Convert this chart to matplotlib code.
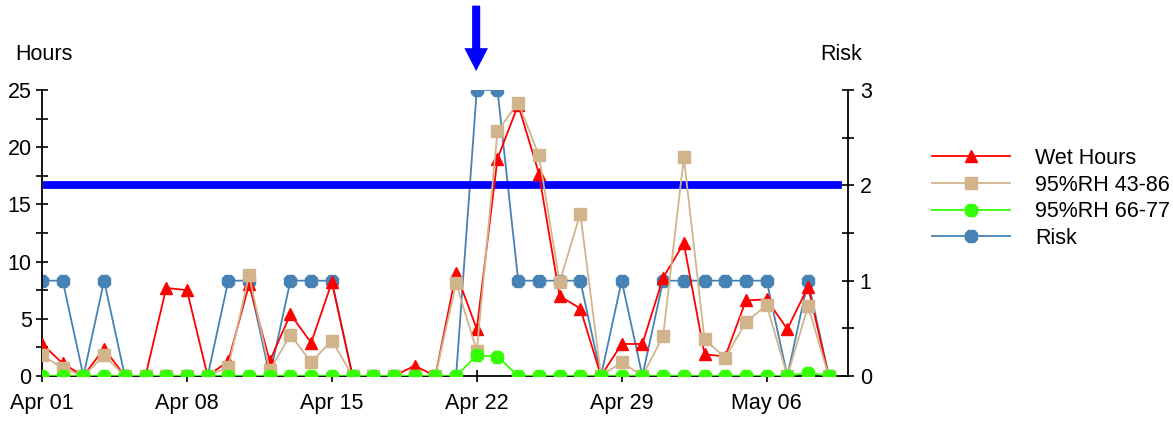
import matplotlib
matplotlib.use("Agg")
import matplotlib.pyplot as plt
from matplotlib.lines import Line2D
from matplotlib.ticker import MultipleLocator
import numpy as np

plt.rcParams['font.family'] = ['Liberation Sans', 'DejaVu Sans']

# Days from Apr 01 to May 09
days = np.arange(39)
tick_days = [0, 7, 14, 21, 28, 35]
tick_labels = ["Apr 01", "Apr 08", "Apr 15", "Apr 22", "Apr 29", "May 06"]

wet_hours = [2.8, 1.1, 0, 2.4, 0, 0, 7.7, 7.5, 0, 1.3,
             8.0, 1.3, 5.4, 2.9, 8.2, 0, 0, 0, 0.9, 0,
             9.0, 4.1, 19.0, 23.7, 17.7, 7.0, 5.9, 0, 2.8, 2.8,
             8.6, 11.6, 1.9, 1.7, 6.6, 6.7, 4.1, 7.8, 0]
rh_43_86 = [1.8, 0.7, 0, 1.8, 0, 0, 0, 0, 0, 0.8,
            8.8, 0.5, 3.6, 1.2, 3.1, 0, 0, 0, 0, 0,
            8.1, 2.2, 21.4, 23.9, 19.3, 8.2, 14.2, 0, 1.2, 0,
            3.5, 19.1, 3.2, 1.6, 4.7, 6.2, 0, 6.1, 0]
rh_66_77 = [0, 0, 0, 0, 0, 0, 0, 0, 0, 0,
            0, 0, 0, 0, 0, 0, 0, 0, 0, 0,
            0, 1.8, 1.7, 0, 0, 0, 0, 0, 0, 0,
            0, 0, 0, 0, 0, 0, 0, 0.3, 0]
risk = [1, 1, 0, 1, 0, 0, 0, 0, 0, 1,
        1, 0, 1, 1, 1, 0, 0, 0, 0, 0,
        0, 3, 3, 1, 1, 1, 1, 0, 1, 0,
        1, 1, 1, 1, 1, 1, 0, 1, 0]
risk_threshold = 2
arrow_day = 21

FS = 15.5
fig = plt.figure(figsize=(11.73, 4.22), dpi=100)
ax = fig.add_axes([42/1173, 1-376/422, (848-42)/1173, (376-90)/422])
ax2 = ax.twinx()
ax.set_zorder(2)
ax2.set_zorder(1)
ax.patch.set_visible(False)

c_red = '#FF0000'
c_tan = '#D2B48C'
c_green = '#33FF00'
c_blue = '#4682B4'

ax2.plot(days, risk, color=c_blue, lw=1.3, marker='8', ms=9.5, mec=c_blue, mfc=c_blue)
ax2.axhline(risk_threshold, xmin=0.006, xmax=0.988, color='#0000FF', lw=5.6, zorder=5)

l1, = ax.plot(days, wet_hours, color=c_red, lw=1.3, marker='^', ms=9, mec=c_red, mfc=c_red, zorder=3)
l2, = ax.plot(days, rh_43_86, color=c_tan, lw=1.3, marker='s', ms=9, mec=c_tan, mfc=c_tan, zorder=4)
l3, = ax.plot(days, rh_66_77, color=c_green, lw=1.3, marker='8', ms=9.5, mec=c_green, mfc=c_green, zorder=5)
l4 = Line2D([], [], color=c_blue, lw=1.3, marker='8', ms=9.5, mec=c_blue, mfc=c_blue)

ax.set_xlim(0, 38.93)
ax.set_ylim(0, 25)
ax2.set_ylim(0, 3)

ax.spines['top'].set_visible(False)
ax.spines['right'].set_visible(False)
ax2.spines['left'].set_visible(False)
ax2.spines['bottom'].set_visible(False)
ax2.spines['top'].set_visible(False)
ax2.spines['right'].set_visible(True)
for sp in ('left', 'bottom'):
    ax.spines[sp].set_color('black')
    ax.spines[sp].set_linewidth(1.3)
ax2.spines['right'].set_linewidth(1.3)
ax.spines['bottom'].set_zorder(0.5)

ax.set_xticks(tick_days)
ax.set_xticklabels(tick_labels)
ax.set_yticks([0, 5, 10, 15, 20, 25])
ax.yaxis.set_minor_locator(MultipleLocator(2.5))
ax2.set_yticks([0, 1, 2, 3])
ax2.yaxis.set_minor_locator(MultipleLocator(0.5))

ax.tick_params(axis='y', which='both', direction='inout', length=9, width=1.2, labelsize=FS, pad=3)
ax.tick_params(axis='x', which='both', direction='inout', length=9, width=1.2, labelsize=FS, pad=8)
ax2.tick_params(axis='y', which='both', direction='inout', length=9, width=1.2, labelsize=FS, pad=4)

fig.text(15/1173, 1-55/422, "Hours", fontsize=FS, ha='left', va='center')
fig.text(862/1173, 1-55/422, "Risk", fontsize=FS, ha='right', va='center')

ax.annotate("", xy=(arrow_day - 0.03, 1.066), xytext=(arrow_day - 0.03, 1.295),
            xycoords=ax.get_xaxis_transform(), textcoords=ax.get_xaxis_transform(),
            arrowprops=dict(facecolor='#0000FF', edgecolor='none', width=5.8,
                            headwidth=17, headlength=16.5, shrink=0),
            annotation_clip=False)

fig.legend([l1, l2, l3, l4], ["Wet Hours", "95%RH 43-86", "95%RH 66-77", "Risk"],
           loc='upper left', bbox_to_anchor=(932/1173, 1-148/422), frameon=False,
           fontsize=FS, handlelength=3.6, handletextpad=1.2, labelspacing=0.26,
           borderaxespad=0, borderpad=0)

fig.savefig("out.png", dpi=100)
